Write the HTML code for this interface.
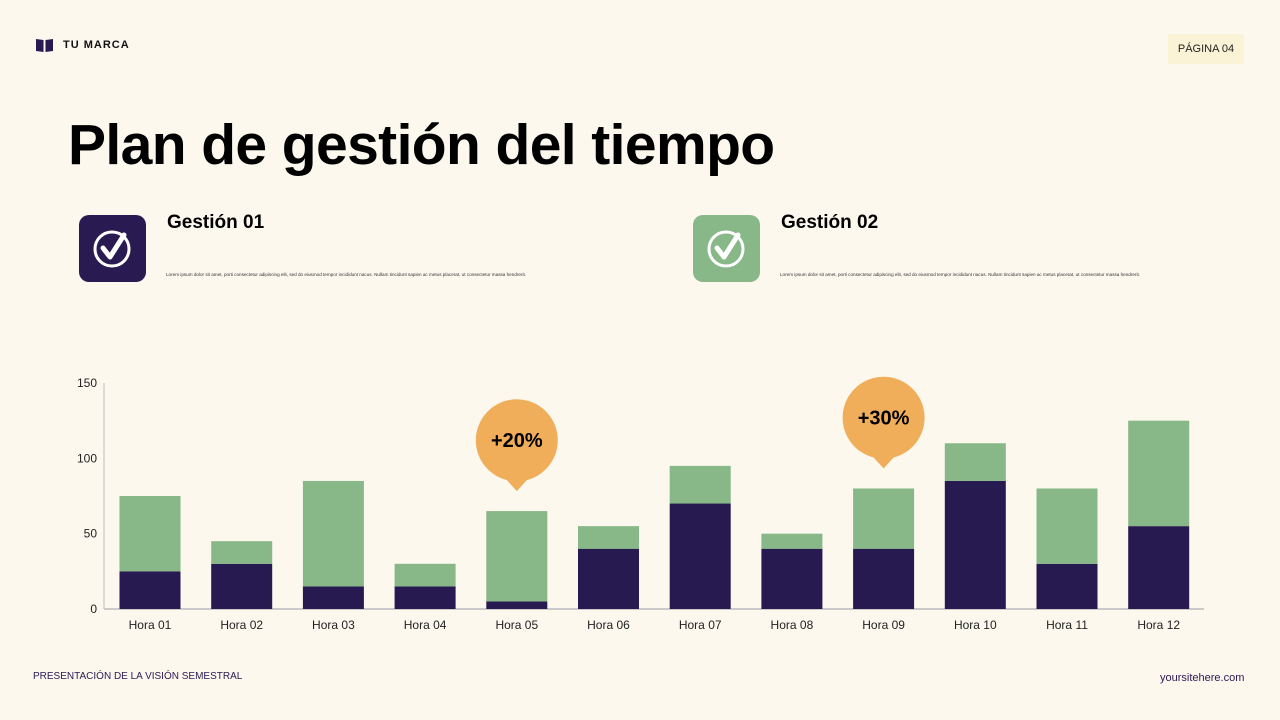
<!DOCTYPE html>
<html><head><meta charset="utf-8"><style>
body{margin:0;width:1280px;height:720px;background:#fcf8ee;font-family:"Liberation Sans",sans-serif;position:relative;overflow:hidden}
.abs{position:absolute}
.lorem{font-size:4.6px;color:#333;white-space:nowrap}
</style></head><body>
<div class="abs" style="left:36px;top:38px;display:flex;align-items:center;gap:10px">
<svg width="17" height="14" viewBox="0 0 17 14"><path d="M0 1 L7.5 2 L7.5 14 L0 13Z M9.5 2 L17 1 L17 13 L9.5 14Z" fill="#2a1a52"/></svg>
<span style="font-weight:bold;font-size:11px;letter-spacing:1px;color:#111">TU MARCA</span></div>
<div class="abs" style="left:1168px;top:34px;width:76px;height:30px;background:#faf3d6;font-size:11px;color:#222;display:flex;align-items:center;justify-content:center">PÁGINA 04</div>
<div class="abs" style="left:68px;top:112px;font-size:57px;font-weight:bold;color:#000;letter-spacing:-0.6px">Plan de gestión del tiempo</div>

<div class="abs" style="left:79px;top:215px;width:67px;height:67px;border-radius:10px;background:#2a1a52">
<svg width="67" height="67"><circle cx="33" cy="34" r="17" fill="none" stroke="#fff" stroke-width="3"/><path d="M24 33 L31 42 L45 20" fill="none" stroke="#fff" stroke-width="5" stroke-linecap="round" stroke-linejoin="round"/></svg></div>
<div class="abs" style="left:167px;top:212px;font-size:19px;font-weight:bold">Gestión 01</div>
<div class="abs lorem" style="left:166px;top:272px">Lorem ipsum dolor sit amet, porti consectetur adipiscing elit, sed do eiusmod tempor incididunt nacus. Nullam tincidunt sapien ac metus placerat, ut consectetur massa hendrerit.</div>

<div class="abs" style="left:693px;top:215px;width:67px;height:67px;border-radius:10px;background:#88b788">
<svg width="67" height="67"><circle cx="33" cy="34" r="17" fill="none" stroke="#fff" stroke-width="3"/><path d="M24 33 L31 42 L45 20" fill="none" stroke="#fff" stroke-width="5" stroke-linecap="round" stroke-linejoin="round"/></svg></div>
<div class="abs" style="left:781px;top:212px;font-size:19px;font-weight:bold">Gestión 02</div>
<div class="abs lorem" style="left:780px;top:272px">Lorem ipsum dolor sit amet, porti consectetur adipiscing elit, sed do eiusmod tempor incididunt nacus. Nullam tincidunt sapien ac metus placerat, ut consectetur massa hendrerit.</div>

<svg id="chart" class="abs" style="left:0;top:0" width="1280" height="720"></svg>

<div class="abs" style="left:33px;top:671px;font-size:10px;color:#2a1a52">PRESENTACIÓN DE LA VISIÓN SEMESTRAL</div>
<div class="abs" style="left:1160px;top:672px;font-size:11px;color:#2a1a52">yoursitehere.com</div>
<script>
const categories=["Hora 01","Hora 02","Hora 03","Hora 04","Hora 05","Hora 06","Hora 07","Hora 08","Hora 09","Hora 10","Hora 11","Hora 12"];
const darkValues=[25,30,15,15,5,40,70,40,40,85,30,55];
const greenValues=[50,15,70,15,60,15,25,10,40,25,50,70];
const yTicks=[0,50,100,150];
const callouts=[{i:4,label:"+20%"},{i:8,label:"+30%"}];
const NS="http://www.w3.org/2000/svg",svg=document.getElementById('chart');
const y0=609,yTop=383,yMax=150,xStart=104,step=91.7,bw=61;
const y=v=>y0-(v/yMax)*(y0-yTop);
const xc=i=>xStart+46+i*step;
function mk(t,a,txt){const e=document.createElementNS(NS,t);for(const k in a)e.setAttribute(k,a[k]);if(txt!==undefined)e.textContent=txt;svg.appendChild(e);return e;}
let e=mk('line',{x1:xStart,x2:1204,y1:y0,y2:y0,stroke:'#bbb','stroke-width':1.5});


e=mk('line',{x1:xStart,x2:xStart,y1:yTop,y2:y0,stroke:'#bbb','stroke-width':1});


yTicks.forEach(t=>{const el=mk('text',{x:97,y:y(t)+4,'text-anchor':'end','font-size':12,fill:'#222'},t);

});
categories.forEach((c,i)=>{
const d=mk('rect',{x:xc(i)-bw/2,y:y(darkValues[i]),width:bw,height:y0-y(darkValues[i]),fill:'#261a50'});


const tot=darkValues[i]+greenValues[i];
const g=mk('rect',{x:xc(i)-bw/2,y:y(tot),width:bw,height:y(darkValues[i])-y(tot),fill:'#88b788'});


const l=mk('text',{x:xc(i),y:629,'text-anchor':'middle','font-size':12,fill:'#222'},c);


});
callouts.forEach(c=>{
const tot=darkValues[c.i]+greenValues[c.i];const tip=y(tot)-20,cy=tip-51,cx=xc(c.i);
const p=mk('path',{d:`M${cx-41} ${cy} A41 41 0 1 1 ${cx+10} ${cy+40} L${cx} ${tip} L${cx-10} ${cy+40} A41 41 0 0 1 ${cx-41} ${cy}Z`,fill:'#f0ae5a'});


const t=mk('text',{x:cx,y:cy+7,'text-anchor':'middle','font-size':20,'font-weight':'bold',fill:'#000'},c.label);


});
</script>
</body></html>
